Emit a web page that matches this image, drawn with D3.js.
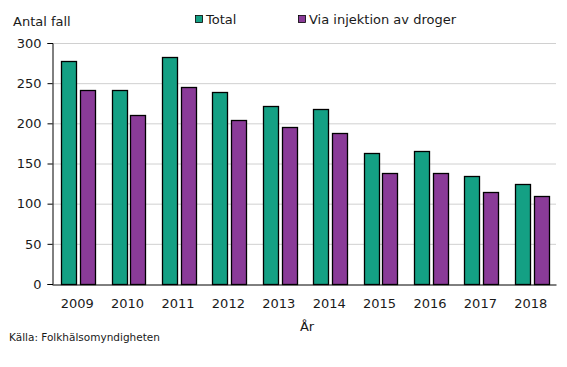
<!DOCTYPE html>
<html><head><meta charset="utf-8">
<script src="https://cdn.jsdelivr.net/npm/d3@7"></script>
<style>body{margin:0;background:#fff}svg text{font-family:"DejaVu Sans",sans-serif;fill:#1a1a1a}</style>
</head><body><svg id="c" width="567" height="367"></svg>
<script>
const years = ["2009","2010","2011","2012","2013","2014","2015","2016","2017","2018"];
const total = [278,241,282,239,221,218,163,165,134,124];
const injektion = [241,210,245,204,195,188,138,138,115,110];
const seriesNames = ["Total","Via injektion av droger"];
const seriesColors = ["#14a084","#8a3b98"];
const yTicks = [0,50,100,150,200,250,300];

const svg = d3.select("#c");
const m = {l:52, r:556, t:43, b:284};
const x = d3.scaleBand().domain(years).range([m.l, m.r]).paddingInner(0).paddingOuter(0);
const y = d3.scaleLinear().domain([0,300]).range([m.b, m.t]);
const x1 = d3.scaleBand().domain([0,1]).range([0, 34]).paddingInner(0.2);

svg.append("g").selectAll("line").data(yTicks.filter(d=>d>0)).join("line")
  .attr("x1", m.l).attr("x2", m.r).attr("y1", d=>y(d)+0.5).attr("y2", d=>y(d)+0.5)
  .attr("stroke","#d0d0d0").attr("stroke-width",1);

const data = years.map((yr,i)=>({yr, v:[total[i], injektion[i]]}));
const g = svg.append("g");
data.forEach(d=>{
  d.v.forEach((val,j)=>{
    const bx = x(d.yr) + x.bandwidth()/2 - 16 + x1(j);
    g.append("rect").attr("x", Math.round(bx)+0.5).attr("y", Math.round(y(val))+0.5)
      .attr("width", Math.round(x1.bandwidth())).attr("height", Math.round(y(0)-y(val)))
      .attr("fill", seriesColors[j]).attr("stroke","#000").attr("stroke-width",1.3);
  });
});

const ya = svg.append("g").attr("transform",`translate(${m.l+0.5},0)`)
  .call(d3.axisLeft(y).tickValues(yTicks).tickSize(5).tickPadding(6));
ya.select(".domain").attr("stroke","#000");
ya.selectAll("line").attr("stroke","#000");
ya.selectAll("text").style("font-size","13px").attr("fill","#1a1a1a").style("font-family","DejaVu Sans");
const xa = svg.append("g").attr("transform",`translate(0,${m.b+0.5})`)
  .call(d3.axisBottom(x).tickSize(0).tickPadding(14));
xa.select(".domain").attr("stroke","#000");
xa.selectAll("text").style("font-size","13px").attr("fill","#1a1a1a").style("font-family","DejaVu Sans");

svg.append("text").attr("x",13).attr("y",26).style("font-size","13px").text("Antal fall");
svg.append("text").attr("x",(m.l+m.r)/2+3).attr("y",331).attr("text-anchor","middle").style("font-size","13px").text("År");
svg.append("text").attr("x",9).attr("y",341).style("font-size","10.5px").text("Källa: Folkhälsomyndigheten");

const legX = [195, 298];
seriesNames.forEach((n,i)=>{
  svg.append("rect").attr("x",legX[i]+0.5).attr("y",15.5).attr("width",7).attr("height",7)
    .attr("fill",seriesColors[i]).attr("stroke","#000").attr("stroke-width",0.8);
  svg.append("text").attr("x",legX[i]+11).attr("y",24).style("font-size","13px").text(n);
});
</script></body></html>
